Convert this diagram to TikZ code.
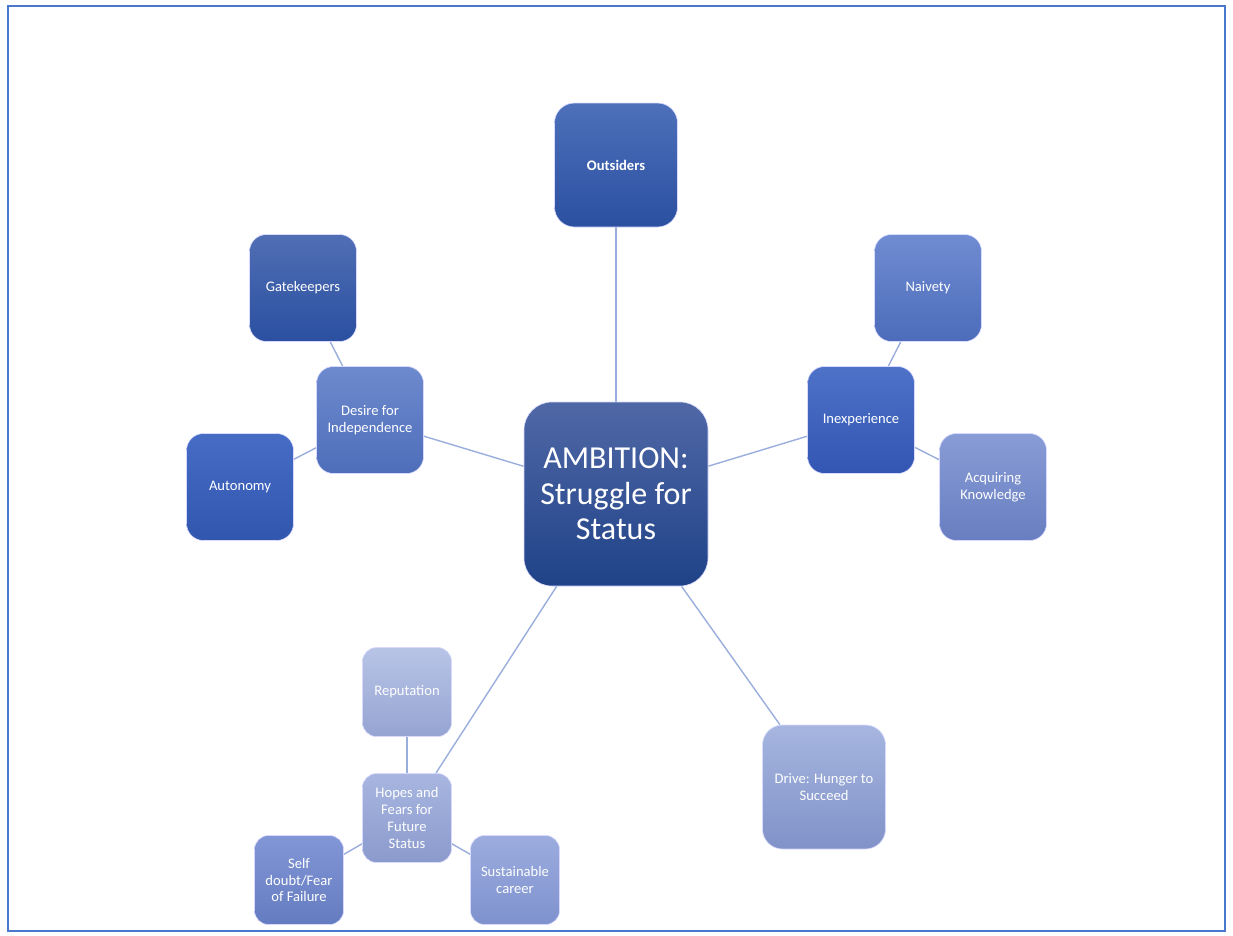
\documentclass[tikz,border=0pt]{standalone}
\usepackage{fontspec}
\setmainfont{Carlito}
\usetikzlibrary{backgrounds}
\begin{document}
\begin{tikzpicture}[x=1pt,y=-1pt,
  box/.style={rounded corners=#1, draw=white!85!blue, line width=0.6pt,
    text=white, align=center, inner sep=0pt, font=\fontsize{14.6}{16.8}\selectfont},
  big/.style={box=20pt, minimum width=123pt, minimum height=124pt},
  mid/.style={box=17pt, minimum width=107pt, minimum height=107pt},
  small/.style={box=14pt, minimum width=89pt, minimum height=89pt},
  link/.style={draw=linkc, line width=1.4pt}]
\definecolor{framec}{HTML}{4A78CF}
\definecolor{linkc}{HTML}{9AAEDD}
% page size
\path[use as bounding box] (0,0) rectangle (1233,935);

% central topic
\node[box=28pt, minimum width=184pt, minimum height=184pt,
  top color={rgb,255:red,80;green,104;blue,166}, bottom color={rgb,255:red,31;green,66;blue,136},
  font=\fontsize{32}{35.5}\selectfont] (amb) at (616,494) {AMBITION:\\Struggle for\\Status};

% first ring
\node[big, top color={rgb,255:red,78;green,112;blue,186}, bottom color={rgb,255:red,42;green,80;blue,160},
  font=\fontsize{14.6}{16.8}\selectfont\bfseries] (out) at (616,165) {Outsiders};
\node[mid, top color={rgb,255:red,110;green,138;blue,206}, bottom color={rgb,255:red,78;green,110;blue,186}] (des) at (370,420) {Desire for\\Independence};
\node[mid, top color={rgb,255:red,78;green,114;blue,200}, bottom color={rgb,255:red,50;green,86;blue,178}] (inx) at (861,420) {Inexperience};
\node[big, top color={rgb,255:red,166;green,182;blue,224}, bottom color={rgb,255:red,128;green,146;blue,200}] (drv) at (824,787) {Drive: Hunger to\\Succeed};
\node[small, top color={rgb,255:red,168;green,182;blue,224}, bottom color={rgb,255:red,138;green,154;blue,204}] (hop) at (407,818) {Hopes and\\Fears for\\Future\\Status};

% second ring
\node[mid, top color={rgb,255:red,80;green,110;blue,180}, bottom color={rgb,255:red,42;green,80;blue,160}] (gat) at (303,288) {Gatekeepers};
\node[mid, top color={rgb,255:red,70;green,108;blue,198}, bottom color={rgb,255:red,48;green,86;blue,174}] (aut) at (240,487) {Autonomy};
\node[mid, top color={rgb,255:red,112;green,140;blue,210}, bottom color={rgb,255:red,76;green,108;blue,186}] (nai) at (928,288) {Naivety};
\node[mid, top color={rgb,255:red,136;green,156;blue,214}, bottom color={rgb,255:red,104;green,126;blue,192}] (acq) at (993,487) {Acquiring\\Knowledge};
\node[small, top color={rgb,255:red,184;green,196;blue,230}, bottom color={rgb,255:red,150;green,164;blue,210}] (rep) at (407,692) {Reputation};
\node[small, top color={rgb,255:red,130;green,150;blue,214}, bottom color={rgb,255:red,100;green,124;blue,192}] (slf) at (299,880) {Self\\doubt/Fear\\of Failure};
\node[small, top color={rgb,255:red,156;green,172;blue,222}, bottom color={rgb,255:red,126;green,146;blue,206}] (sus) at (515,880) {Sustainable\\career};

% white page, frame and connectors behind the boxes
\begin{pgfonlayer}{background}
\fill[white] (0,0) rectangle (1233,935);
\draw[framec, line width=2.4pt] (8,6) rectangle (1225,931);
\draw[link] (amb) -- (out);
\draw[link] (amb) -- (des);
\draw[link] (amb) -- (inx);
\draw[link] (amb) -- (drv);
\draw[link] (amb) -- (hop);
\draw[link] (des) -- (gat);
\draw[link] (des) -- (aut);
\draw[link] (inx) -- (nai);
\draw[link] (inx) -- (acq);
\draw[link] (hop) -- (rep);
\draw[link] (hop) -- (slf);
\draw[link] (hop) -- (sus);
\end{pgfonlayer}
\end{tikzpicture}
\end{document}
